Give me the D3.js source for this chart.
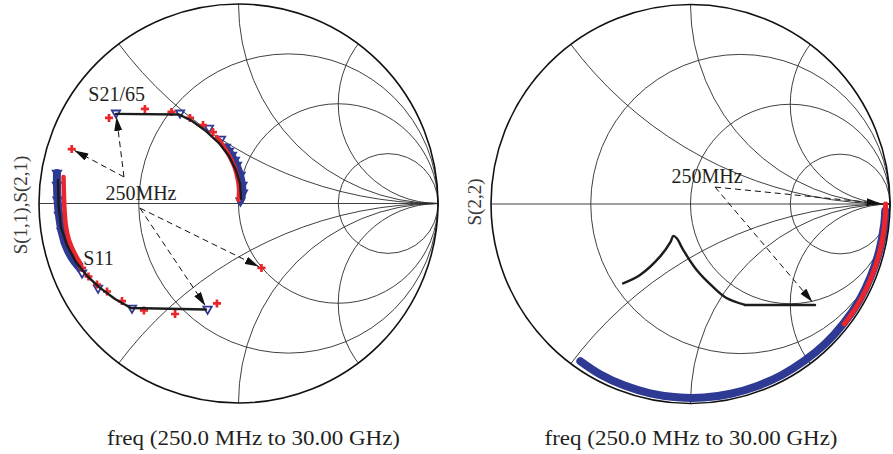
<!DOCTYPE html>
<html>
<head>
<meta charset="utf-8">
<script src="https://cdn.jsdelivr.net/npm/d3@7"></script>
<style>
body { margin: 0; background: #fff; }
svg { display: block; }
text { font-family: "Liberation Serif", "Times New Roman", serif; fill: #231f20; }
</style>
</head>
<body>
<svg id="chart" width="893" height="454"></svg>
<script>
// Smith chart grid (normalised resistance circles / reactance arcs)
var resistanceCircles = [1/3, 1, 3];
var reactanceArcs = [0.5, 1, 2, -0.5, -1, -2];

// all traces are reflection coefficients [re, im], first point = 250 MHz

// left chart: S21/65
var s21Model = [[-0.614,0.449],[-0.298,0.446],[-0.233,0.414],[-0.163,0.363],[-0.098,0.303],[-0.048,0.238],[-0.013,0.168],[0.008,0.098],[0.013,0.023]];
var s21Meas = [[-0.614,0.454],[-0.293,0.454],[-0.148,0.378],[-0.088,0.323],[-0.048,0.263],[-0.018,0.218]];
var s21MeasDense = [[-0.063,0.283],[-0.033,0.243],[-0.008,0.193],[0.010,0.143],[0.020,0.093],[0.022,0.053],[0.010,0.013]];
var s21Sim = [[-0.836,0.273],[-0.649,0.429],[-0.469,0.474],[-0.336,0.459],[-0.243,0.429],[-0.178,0.393],[-0.128,0.358]];
var s21SimDense = [[-0.108,0.333],[-0.073,0.283],[-0.043,0.233],[-0.018,0.178],[-0.003,0.118],[0.003,0.068],[0.000,0.018]];

// left chart: S11
var s11Model = [[-0.163,-0.531],[-0.539,-0.524],[-0.619,-0.479],[-0.699,-0.419],[-0.759,-0.363],[-0.815,-0.293],[-0.860,-0.208],[-0.890,-0.118],[-0.902,-0.008],[-0.905,0.118]];
var s11Meas = [[-0.155,-0.529],[-0.534,-0.524],[-0.704,-0.424],[-0.784,-0.348]];
var s11MeasDense = [[-0.805,-0.313],[-0.835,-0.273],[-0.865,-0.213],[-0.887,-0.138],[-0.900,-0.058],[-0.907,0.018],[-0.910,0.093],[-0.910,0.153]];
var s11Sim = [[0.115,-0.323],[-0.108,-0.501],[-0.318,-0.554],[-0.474,-0.536],[-0.584,-0.489],[-0.659,-0.441],[-0.709,-0.406],[-0.752,-0.366],[-0.784,-0.323]];
var s11SimDense = [[-0.794,-0.298],[-0.825,-0.243],[-0.850,-0.183],[-0.865,-0.113],[-0.872,-0.033],[-0.875,0.043],[-0.877,0.133]];

// right chart: S22
var s22ModelHigh = [[0.624,-0.506],[0.273,-0.506]];
var s22Model = [[0.273,-0.506],[0.178,-0.470],[0.113,-0.416],[0.031,-0.331],[-0.036,-0.231],[-0.069,-0.172],[-0.086,-0.160],[-0.100,-0.190],[-0.153,-0.264],[-0.253,-0.356],[-0.338,-0.398]];
var s22Meas = [[0.976,-0.034],[0.971,-0.102],[0.946,-0.236],[0.903,-0.365],[0.844,-0.487],[0.767,-0.599],[0.676,-0.700],[0.571,-0.786],[0.456,-0.858],[0.332,-0.913],[0.202,-0.951],[0.068,-0.970],[-0.068,-0.969],[-0.202,-0.949],[-0.331,-0.910],[-0.454,-0.853],[-0.552,-0.788]];
var s22Sim = [[0.978,0.000],[0.976,-0.068],[0.962,-0.178],[0.938,-0.278],[0.903,-0.376],[0.864,-0.459],[0.827,-0.523],[0.771,-0.602]];

// annotation anchors (reflection coefficient coords)
var leftFreqLabel = [-0.489, 0.018];
var leftArrowUpper = [-0.574, 0.133];
var leftArrowLower = [-0.494, -0.023];
var s21Label = [-0.753, 0.514];
var s11Label = [-0.778, -0.308];
var rightFreqLabel = [0.083, 0.105];
var rightArrowFrom = [0.123, 0.085];

var xLabel = "freq (250.0 MHz to 30.00 GHz)";

var blue = "#2e3a94", red = "#e8262c", ink = "#1c1c1c";

var svg = d3.select("#chart");
var defs = svg.append("defs");

//arrow head used by the dashed markers
defs.append("marker")
    .attr("id", "ah")
    .attr("viewBox", "0 0 14 8")
    .attr("refX", 14).attr("refY", 4)
    .attr("markerWidth", 14).attr("markerHeight", 8)
    .attr("markerUnits", "userSpaceOnUse")
    .attr("orient", "auto")
    .append("path").attr("d", "M0,0L14,4L0,8Z").attr("fill", "#111");

/**
 * Builds one smith chart grid and returns its scales
 */
function smith(id, cx, cy, R){
    var x = d3.scaleLinear().domain([-1, 1]).range([cx - R, cx + R]);
    var y = d3.scaleLinear().domain([-1, 1]).range([cy + R, cy - R]);
    var g = svg.append("g");

    defs.append("clipPath").attr("id", id)
        .append("circle").attr("cx", x(0)).attr("cy", y(0)).attr("r", R);

    var grid = g.append("g")
        .attr("fill", "none")
        .attr("stroke", "#2a2a2a")
        .attr("stroke-width", 0.9);

    grid.selectAll(".rc").data(resistanceCircles).enter()
        .append("circle")
        .attr("cx", function(r){ return x(r / (1 + r)); })
        .attr("cy", y(0))
        .attr("r", function(r){ return (x(1) - x(0)) / (1 + r); });

    grid.append("g").attr("clip-path", "url(#" + id + ")")
        .selectAll(".xa").data(reactanceArcs).enter()
        .append("circle")
        .attr("cx", x(1))
        .attr("cy", function(v){ return y(1 / v); })
        .attr("r", function(v){ return (x(1) - x(0)) / Math.abs(v); });

    grid.append("line")
        .attr("x1", x(-1)).attr("x2", x(1))
        .attr("y1", y(0)).attr("y2", y(0));

    g.append("circle")
        .attr("cx", x(0)).attr("cy", y(0)).attr("r", R)
        .attr("fill", "none").attr("stroke", "#111").attr("stroke-width", 1.6);

    return {g: g, x: x, y: y};
}

function band(c, data, color, width){
    var line = d3.line()
        .x(function(d){ return c.x(d[0]); })
        .y(function(d){ return c.y(d[1]); })
        .curve(d3.curveCatmullRom.alpha(0.5));
    c.g.append("path").datum(data)
        .attr("d", line)
        .attr("fill", "none").attr("stroke", color)
        .attr("stroke-width", width)
        .attr("stroke-linecap", "round").attr("stroke-linejoin", "round");
}

function modelLine(c, data, smooth){
    var line = d3.line()
        .x(function(d){ return c.x(d[0]); })
        .y(function(d){ return c.y(d[1]); });
    if (smooth) line.curve(d3.curveCatmullRom.alpha(0.5));
    c.g.append("path").datum(data)
        .attr("d", line)
        .attr("fill", "none").attr("stroke", ink)
        .attr("stroke-width", 2.4)
        .attr("stroke-linecap", "round")
        .attr("stroke-linejoin", "round");
}

function triangles(c, data){
    c.g.selectAll(null).data(data).enter()
        .append("path")
        .attr("d", d3.symbol().type(d3.symbolTriangle).size(30))
        .attr("transform", function(d){
            return "translate(" + c.x(d[0]) + "," + c.y(d[1]) + ") rotate(180)";
        })
        .attr("fill", "none").attr("stroke", blue).attr("stroke-width", 1.8);
}

function crosses(c, data){
    c.g.selectAll(null).data(data).enter()
        .append("path")
        .attr("d", d3.symbol().type(d3.symbolCross).size(36))
        .attr("transform", function(d){
            return "translate(" + c.x(d[0]) + "," + c.y(d[1]) + ")";
        })
        .attr("fill", red);
}

function arrow(c, from, to, gap){
    var x1 = c.x(from[0]), y1 = c.y(from[1]);
    var x2 = c.x(to[0]), y2 = c.y(to[1]);
    var len = Math.hypot(x2 - x1, y2 - y1);
    var k = (len - gap) / len;
    c.g.append("line")
        .attr("x1", x1).attr("y1", y1)
        .attr("x2", x1 + (x2 - x1) * k).attr("y2", y1 + (y2 - y1) * k)
        .attr("stroke", "#111").attr("stroke-width", 1)
        .attr("stroke-dasharray", "6,4")
        .attr("marker-end", "url(#ah)");
}

function label(c, at, txt, anchor){
    c.g.append("text")
        .attr("x", c.x(at[0])).attr("y", c.y(at[1]))
        .attr("text-anchor", anchor)
        .style("font-size", "20px")
        .text(txt);
}

//left chart
var left = smith("clipL", 238.5, 203.5, 199.5);

band(left, s11MeasDense, blue, 8);
triangles(left, s11MeasDense);
triangles(left, s11Meas);
band(left, s11SimDense, red, 4.5);
crosses(left, s11Sim);
modelLine(left, s11Model, false);

band(left, s21MeasDense, blue, 7);
triangles(left, s21MeasDense);
triangles(left, s21Meas);
band(left, s21SimDense, red, 4.5);
crosses(left, s21Sim);
modelLine(left, s21Model, false);

arrow(left, leftArrowUpper, s21Meas[0], 4);
arrow(left, leftArrowUpper, s21Sim[0], 3);
arrow(left, leftArrowLower, s11Sim[0], 3);
arrow(left, leftArrowLower, s11Meas[0], 4);

label(left, leftFreqLabel, "250MHz", "middle");
label(left, s21Label, "S21/65", "start");
label(left, s11Label, "S11", "start");

//right chart
var right = smith("clipR", 690.5, 204, 199.5);

band(right, s22Meas, blue, 8);
band(right, s22Sim, red, 5);
modelLine(right, s22ModelHigh, false);
modelLine(right, s22Model, true);

arrow(right, rightArrowFrom, s22Sim[0], 5);
arrow(right, rightArrowFrom, s22ModelHigh[0], 4);
label(right, rightFreqLabel, "250MHz", "middle");

//axis titles
[{x: 253.5, t: xLabel}, {x: 691, t: xLabel}].forEach(function(d){
    svg.append("text")
        .attr("x", d.x).attr("y", 445)
        .attr("text-anchor", "middle")
        .attr("textLength", 293)
        .attr("lengthAdjust", "spacingAndGlyphs")
        .style("font-size", "21px")
        .text(d.t);
});

[{x: 27, y: 205, t: "S(1,1),S(2,1)"}, {x: 481, y: 202, t: "S(2,2)"}].forEach(function(d){
    svg.append("text")
        .attr("transform", "translate(" + d.x + "," + d.y + ") rotate(-90)")
        .attr("text-anchor", "middle")
        .style("font-size", "19px")
        .style("fill", "#3a3a3a")
        .text(d.t);
});
</script>
</body>
</html>
